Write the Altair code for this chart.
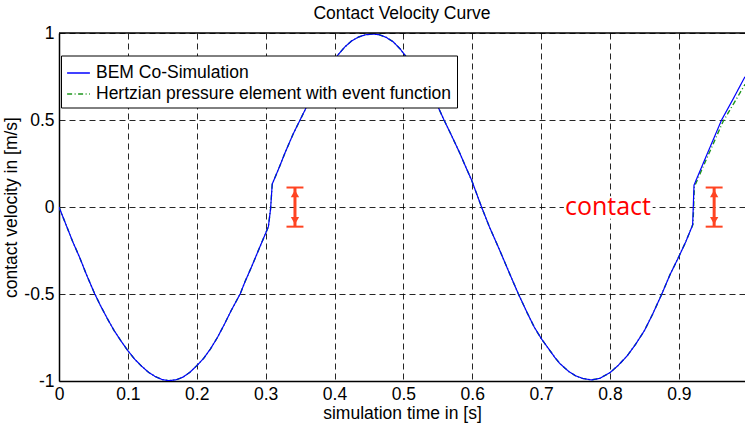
import altair as alt
import pandas as pd

# ---- data ----
t_bem = [0.000, 0.010, 0.020, 0.030, 0.040, 0.052, 0.060, 0.070, 0.080, 0.090,
         0.100, 0.110, 0.120, 0.130, 0.140, 0.150, 0.159, 0.170, 0.180, 0.190,
         0.200, 0.210, 0.220, 0.230, 0.240, 0.250, 0.263, 0.270, 0.280, 0.290,
         0.300, 0.304, 0.3072, 0.3096, 0.320, 0.328, 0.340, 0.350, 0.362, 0.370,
         0.380, 0.390, 0.405, 0.415, 0.425, 0.435, 0.445, 0.456, 0.465, 0.475,
         0.485, 0.495, 0.502, 0.510, 0.520, 0.530, 0.540, 0.548, 0.559, 0.570,
         0.582, 0.590, 0.599, 0.6135, 0.625, 0.640, 0.655, 0.667, 0.680, 0.690,
         0.700, 0.710, 0.720, 0.727, 0.740, 0.750, 0.760, 0.773, 0.785, 0.800,
         0.812, 0.825, 0.837, 0.850, 0.862, 0.875, 0.887, 0.900, 0.910, 0.919,
         0.920, 0.922, 0.940, 0.962, 0.980, 0.996]
v_bem = [0.000, -0.100, -0.200, -0.290, -0.390, -0.500, -0.565, -0.640, -0.710, -0.770,
         -0.826, -0.875, -0.915, -0.950, -0.975, -0.992, -0.998, -0.993, -0.978, -0.950,
         -0.912, -0.870, -0.815, -0.750, -0.675, -0.595, -0.500, -0.430, -0.340, -0.245,
         -0.151, -0.113, -0.010, 0.132, 0.230, 0.310, 0.420, 0.500, 0.596, 0.655,
         0.720, 0.785, 0.874, 0.920, 0.955, 0.977, 0.990, 0.994, 0.990, 0.975,
         0.950, 0.910, 0.874, 0.830, 0.770, 0.700, 0.640, 0.596, 0.500, 0.410,
         0.309, 0.235, 0.155, 0.000, -0.115, -0.250, -0.390, -0.500, -0.610, -0.690,
         -0.755, -0.810, -0.865, -0.899, -0.945, -0.970, -0.985, -0.994, -0.985, -0.952,
         -0.910, -0.855, -0.790, -0.710, -0.615, -0.502, -0.390, -0.285, -0.200, -0.113,
         -0.100, 0.126, 0.295, 0.500, 0.630, 0.749]

t_hz = t_bem[:90] + [0.9205, 0.9225, 0.940, 0.964, 0.980, 0.996]
v_hz = v_bem[:90] + [-0.100, 0.117, 0.275, 0.490, 0.597, 0.705]

series_names = ["BEM Co-Simulation", "Hertzian pressure element with event function"]
series_colors = ["#0000FF", "#1E961E"]
series_dash = [[1, 0], [5, 2.5, 1, 2.5]]

x_ticks = [0, 0.1, 0.2, 0.3, 0.4, 0.5, 0.6, 0.7, 0.8, 0.9]
y_ticks = [-1, -0.5, 0, 0.5, 1]
x_domain = [0, 0.996]
y_domain = [-1, 1]

arrow_t = [0.3426, 0.9512]
arrow_top = [0.112, 0.112]
arrow_bot = [-0.113, -0.113]
cap_half = 0.0123

label_text = ["contact"]
label_t = [0.797]
label_v = [0.0]
label_box_t = [0.733, 0.862]
label_box_v = [-0.068, 0.062]

FONT = "Liberation Sans"
FS = 17.5
RED = "#FF4422"

df_bem = pd.DataFrame({"t": t_bem, "v": v_bem, "series": series_names[0]})
df_hz = pd.DataFrame({"t": t_hz, "v": v_hz, "series": series_names[1]})
df_arrow = pd.DataFrame({
    "t": arrow_t, "top": arrow_top, "bot": arrow_bot,
    "t1": [a - cap_half for a in arrow_t], "t2": [a + cap_half for a in arrow_t],
})
df_label = pd.DataFrame({"t": label_t, "v": label_v, "text": label_text})
df_box = pd.DataFrame({"t1": [label_box_t[0]], "t2": [label_box_t[1]],
                       "v1": [label_box_v[0]], "v2": [label_box_v[1]]})
df_frame = pd.DataFrame({"t1": [x_domain[0]], "t2": [x_domain[1]], "v": [y_domain[1]]})

xs = alt.Scale(domain=x_domain, nice=False, zero=False)
ys = alt.Scale(domain=y_domain, nice=False, zero=False)

x_axis = alt.Axis(values=x_ticks, labelExpr="'' + datum.value", title="simulation time in [s]",
                  grid=True, ticks=False, titlePadding=2, labelPadding=4, labelFlush=False)
y_axis = alt.Axis(values=y_ticks, labelExpr="'' + datum.value", title="contact velocity in [m/s]",
                  grid=True, ticks=False, titlePadding=3, labelPadding=5, labelFlush=False)

leg = alt.Legend(title=None, orient="none", legendX=2, legendY=22.5, fillColor="white",
                 strokeColor="black", padding=5, symbolType="stroke", symbolSize=520,
                 symbolStrokeWidth=1.5, labelFontSize=FS, labelFont=FONT, labelColor="black",
                 labelLimit=600, rowPadding=0, labelOffset=5)

color = alt.Color("series:N", scale=alt.Scale(domain=series_names, range=series_colors), legend=leg)
dash = alt.StrokeDash("series:N", scale=alt.Scale(domain=series_names, range=series_dash), legend=leg)

box = alt.Chart(df_box).mark_rect(color="white").encode(
    x=alt.X("t1:Q", scale=xs, axis=x_axis), x2="t2:Q",
    y=alt.Y("v1:Q", scale=ys, axis=y_axis), y2="v2:Q")

green = alt.Chart(df_hz).mark_line(strokeWidth=1.4, clip=True).encode(
    x=alt.X("t:Q", scale=xs, axis=x_axis), y=alt.Y("v:Q", scale=ys, axis=y_axis),
    color=color, strokeDash=dash)
blue = alt.Chart(df_bem).mark_line(strokeWidth=1.2, clip=True).encode(
    x=alt.X("t:Q", scale=xs), y=alt.Y("v:Q", scale=ys), color=color, strokeDash=dash)

shaft = alt.Chart(df_arrow).mark_rule(color=RED, strokeWidth=3).encode(
    x="t:Q", y="bot:Q", y2="top:Q")
cap_top = alt.Chart(df_arrow).mark_rule(color=RED, strokeWidth=2).encode(
    x="t1:Q", x2="t2:Q", y="top:Q")
cap_bot = alt.Chart(df_arrow).mark_rule(color=RED, strokeWidth=2).encode(
    x="t1:Q", x2="t2:Q", y="bot:Q")
head_top = alt.Chart(df_arrow).mark_point(shape="triangle-up", filled=True, color=RED,
                                          size=70, opacity=1, yOffset=6).encode(
    x="t:Q", y="top:Q")
head_bot = alt.Chart(df_arrow).mark_point(shape="triangle-down", filled=True, color=RED,
                                          size=70, opacity=1, yOffset=-6).encode(
    x="t:Q", y="bot:Q")

label = alt.Chart(df_label).mark_text(color="#FF0000", font="Open Sans", fontSize=25,
                                      baseline="middle", align="center").encode(
    x="t:Q", y="v:Q", text="text:N")

frame = alt.Chart(df_frame).mark_rule(color="black", strokeWidth=1.5).encode(
    x="t1:Q", x2="t2:Q", y="v:Q")

chart = alt.layer(box, green, blue, shaft, cap_top, cap_bot, head_top, head_bot, label, frame).properties(
    width=686, height=348,
    title=alt.Title("Contact Velocity Curve", font=FONT, fontSize=FS, fontWeight="normal",
                    anchor="middle", offset=2, color="black"),
    autosize=alt.AutoSizeParams(type="none"),
    padding={"left": 59, "top": 33, "right": 0, "bottom": 43},
    background="white",
).configure_view(stroke=None).configure_axis(
    labelFont=FONT, labelFontSize=FS, labelColor="black",
    titleFont=FONT, titleFontSize=FS, titleFontWeight="normal", titleColor="black",
    domainColor="black", domainWidth=1.5,
    gridColor="black", gridDash=[6, 4], gridWidth=1, gridOpacity=0.85,
)

chart.save("out.html", embed_options={"renderer": "svg", "actions": False})
